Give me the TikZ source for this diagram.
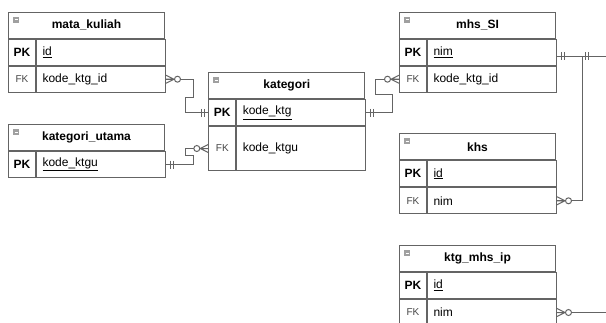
\documentclass[tikz,border=0pt]{standalone}
\usepackage{fontspec}
\setmainfont{Liberation Sans}
\usepackage{tikz}
\usetikzlibrary{positioning}
\usepackage{xcolor}
\definecolor{ergray}{RGB}{100,100,100}
\definecolor{erfk}{RGB}{70,70,70}
\definecolor{ericon}{RGB}{160,160,160}
\tikzstyle{tblhead} = [rectangle, draw=ergray, line width=1pt, minimum width=156pt, minimum height=26pt, inner sep=0pt, anchor=north west, font=\fontsize{12}{14}\selectfont\bfseries]
\tikzstyle{keycell} = [rectangle, draw=ergray, line width=1pt, minimum width=27pt, minimum height=26pt, inner sep=0pt, font=\fontsize{12}{14}\selectfont\bfseries]
\tikzstyle{fkcell} = [keycell, font=\fontsize{10}{12}\selectfont, text=erfk]
\tikzstyle{attrcell} = [rectangle, draw=ergray, line width=1pt, minimum height=26pt, text width=117pt, inner xsep=6pt, inner ysep=0pt, align=left, font=\fontsize{12}{14}\selectfont]
\tikzstyle{relline} = [draw=ergray, line width=1pt]
% crow's foot ends, r = line leaves to the right, l = to the left
\tikzset{
  zeromanyr/.pic={\draw[relline] (0,4) -- (8,0) -- (0,-4) (0,0) -- (8,0);
                  \draw[relline, fill=white] (11.5,0) circle (3pt);},
  zeromanyl/.pic={\draw[relline] (0,4) -- (-8,0) -- (0,-4) (0,0) -- (-8,0);
                  \draw[relline, fill=white] (-11.5,0) circle (3pt);},
  oneoner/.pic={\draw[relline] (4,4) -- (4,-4) (7,4) -- (7,-4);},
  oneonel/.pic={\draw[relline] (-4,4) -- (-4,-4) (-7,4) -- (-7,-4);}
}

\begin{document}
\begin{tikzpicture}[x=1pt, y=1pt]
\clip (0,0) rectangle (606,-322);
\fill[white] (0,0) rectangle (606,-322);

% Tables
\node (mk) [tblhead] at (8,-11.7) {mata\_kuliah};
\node (mkpkk) [keycell, below=0pt of mk.south west, anchor=north west] {PK};
\node (mkpk) [attrcell, right=0pt of mkpkk] {\underline{id}};
\node (mkfkk) [fkcell, below=0pt of mkpkk] {FK};
\node (mkfk) [attrcell, right=0pt of mkfkk] {kode\_ktg\_id};

\node (ku) [tblhead] at (8,-124) {kategori\_utama};
\node (kupkk) [keycell, below=0pt of ku.south west, anchor=north west] {PK};
\node (kupk) [attrcell, right=0pt of kupkk] {\underline{kode\_ktgu}};

\node (ktg) [tblhead] at (208.3,-72.3) {kategori};
\node (ktgpkk) [keycell, below=0pt of ktg.south west, anchor=north west] {PK};
\node (ktgpk) [attrcell, right=0pt of ktgpkk] {\underline{kode\_ktg}};
\node (ktgfkk) [fkcell, below=0pt of ktgpkk, minimum height=43.4pt] {FK};
\node (ktgfk) [attrcell, right=0pt of ktgfkk, minimum height=43.4pt] {kode\_ktgu};

\node (ms) [tblhead] at (399,-11.7) {mhs\_SI};
\node (mspkk) [keycell, below=0pt of ms.south west, anchor=north west] {PK};
\node (mspk) [attrcell, right=0pt of mspkk] {\underline{nim}};
\node (msfkk) [fkcell, below=0pt of mspkk] {FK};
\node (msfk) [attrcell, right=0pt of msfkk] {kode\_ktg\_id};

\node (khs) [tblhead] at (399,-133.3) {khs};
\node (khspkk) [keycell, below=0pt of khs.south west, anchor=north west] {PK};
\node (khspk) [attrcell, right=0pt of khspkk] {\underline{id}};
\node (khsfkk) [fkcell, below=0pt of khspkk] {FK};
\node (khsfk) [attrcell, right=0pt of khsfkk] {nim};

\node (ip) [tblhead] at (399,-245) {ktg\_mhs\_ip};
\node (ippkk) [keycell, below=0pt of ip.south west, anchor=north west] {PK};
\node (ippk) [attrcell, right=0pt of ippkk] {\underline{id}};
\node (ipfkk) [fkcell, below=0pt of ippkk] {FK};
\node (ipfk) [attrcell, right=0pt of ipfkk] {nim};

% collapse icons
\foreach \t in {mk,ku,ktg,ms,khs,ip} {
  \fill[ericon] ([shift={(5,-5)}]\t.north west) rectangle ++(6,-6);
  \draw[white, line width=0.8pt] ([shift={(6.5,-8)}]\t.north west) -- ++(3,0);
}

% Relations
\draw[relline] (mkfk.east) -- ++(27,0) -- ++(0,-18) -- ++(-8,0) |- (ktgpkk.west);
\pic at (mkfk.east) {zeromanyr};
\pic at (ktgpkk.west) {oneonel};

\draw[relline] (kupk.east) -- ++(27,0) -- ++(0,9) -- ++(-8,0) |- (ktgfkk.west);
\pic at (kupk.east) {oneoner};
\pic at (ktgfkk.west) {zeromanyl};

\draw[relline] (ktgpk.east) -- ++(26,0) -- ++(0,18) -- ++(-17,0) |- (msfkk.west);
\pic at (ktgpk.east) {oneoner};
\pic at (msfkk.west) {zeromanyl};

\draw[relline] ([yshift=-4pt]mspk.east) -- ++(25,0) |- (khsfk.east);
\draw[relline] ([yshift=-4pt]mspk.east) -- ++(50.5,0) |- (ipfk.east);
\pic at ([yshift=-4pt]mspk.east) {oneoner};
\pic at ([shift={(24pt,-4pt)}]mspk.east) {oneoner};
\pic at (khsfk.east) {zeromanyr};
\pic at (ipfk.east) {zeromanyr};
\end{tikzpicture}
\end{document}
